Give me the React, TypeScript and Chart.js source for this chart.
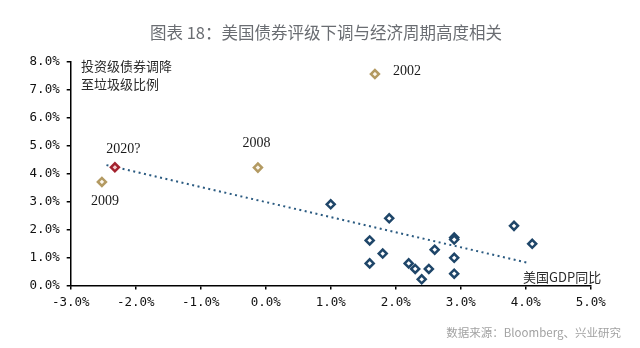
import React, { useEffect, useRef } from "react";
import { Chart, registerables } from "chart.js";

Chart.register(...registerables);

// ---- data ----
const blueGdp = [1.0, 1.9, 1.6, 1.6, 1.8, 2.2, 2.3, 2.4, 2.51, 2.6, 2.9, 2.9, 2.9, 2.9, 3.82, 4.1];
const blueRatio = [2.9, 2.4, 1.61, 0.79, 1.14, 0.79, 0.59, 0.22, 0.59, 1.28, 1.71, 1.64, 0.99, 0.42, 2.13, 1.49];
const crisisYears = ["2002", "2008", "2009"];
const crisisGdp = [1.68, -0.12, -2.52];
const crisisRatio = [7.55, 4.21, 3.7];
const forecastYears = ["2020?"];
const forecastGdp = [-2.32];
const forecastRatio = [4.22];
const trendGdp = [-2.45, 4.03];
const trendRatio = [4.3, 0.81];
const xTickValues = [-3, -2, -1, 0, 1, 2, 3, 4, 5];
const yTickValues = [0, 1, 2, 3, 4, 5, 6, 7, 8];

const titleText = "图表 18：美国债券评级下调与经济周期高度相关";
const sourceText = "数据来源：Bloomberg、兴业研究";
const yAxisNote = ["投资级债券调降", "至垃圾级比例"];
const xAxisNote = "美国GDP同比";

// label offsets (style, not data)
const crisisLabelOffsets = [
  { dx: 18, dy: -3, align: "left" as CanvasTextAlign },
  { dx: -1.5, dy: -24, align: "center" as CanvasTextAlign },
  { dx: 3, dy: 19, align: "center" as CanvasTextAlign },
];
const forecastLabelOffsets = [{ dx: 8.5, dy: -18, align: "center" as CanvasTextAlign }];

const zip = (xs: number[], ys: number[]) => xs.map((x, i) => ({ x, y: ys[i] }));

const textPlugin = {
  id: "texts",
  afterDraw(chart: any) {
    const ctx = chart.ctx as CanvasRenderingContext2D;
    const xs = chart.scales.x;
    const ys = chart.scales.y;
    ctx.save();
    // title
    ctx.fillStyle = "#6a6d72";
    ctx.font = '16.5px "Noto Sans CJK SC", "Noto Sans", sans-serif';
    ctx.textAlign = "center";
    ctx.textBaseline = "middle";
    ctx.fillText(titleText, 326, 33);
    // source
    ctx.fillStyle = "#a2a2a2";
    ctx.font = '11.5px "Noto Sans CJK SC", "Noto Sans", sans-serif';
    ctx.textAlign = "right";
    ctx.fillText(sourceText, 621, 333);
    // axis notes
    ctx.fillStyle = "#2a2a2a";
    ctx.font = '13px "Noto Sans CJK SC", sans-serif';
    ctx.textAlign = "left";
    ctx.fillText(yAxisNote[0], 81, 66);
    ctx.fillText(yAxisNote[1], 81, 84.5);
    ctx.fillText(xAxisNote, 523, 277);
    // year labels
    ctx.fillStyle = "#1a1a1a";
    ctx.font = '14px "Liberation Serif", "Times New Roman", serif';
    crisisYears.forEach((t, i) => {
      const o = crisisLabelOffsets[i];
      ctx.textAlign = o.align;
      ctx.fillText(t, xs.getPixelForValue(crisisGdp[i]) + o.dx, ys.getPixelForValue(crisisRatio[i]) + o.dy);
    });
    forecastYears.forEach((t, i) => {
      const o = forecastLabelOffsets[i];
      ctx.textAlign = o.align;
      ctx.fillText(t, xs.getPixelForValue(forecastGdp[i]) + o.dx, ys.getPixelForValue(forecastRatio[i]) + o.dy);
    });
    ctx.restore();
  },
};

export default function App() {
  const ref = useRef<HTMLCanvasElement | null>(null);
  useEffect(() => {
    if (!ref.current) return;
    const tickFont = { family: '"DejaVu Sans Mono", monospace', size: 12.5 };
    const chart = new Chart(ref.current, {
      type: "scatter",
      data: {
        datasets: [
          {
            type: "line",
            data: zip(trendGdp, trendRatio),
            borderColor: "#2a5a80",
            borderWidth: 2,
            borderDash: [2, 3.5],
            pointRadius: 0,
            fill: false,
            order: 5,
          } as any,
          {
            data: zip(blueGdp, blueRatio),
            pointStyle: "rectRot",
            pointRadius: 4,
            borderWidth: 2.5,
            borderColor: "#1f4669",
            backgroundColor: "#ffffff",
            order: 1,
          },
          {
            data: zip(crisisGdp, crisisRatio),
            pointStyle: "rectRot",
            pointRadius: 4,
            borderWidth: 2.5,
            borderColor: "#b39a62",
            backgroundColor: "#fbf6ec",
            order: 1,
          },
          {
            data: zip(forecastGdp, forecastRatio),
            pointStyle: "rectRot",
            pointRadius: 4,
            borderWidth: 2.5,
            borderColor: "#a3222e",
            backgroundColor: "#f3c9cc",
            order: 1,
          },
        ],
      },
      options: {
        responsive: false,
        animation: false,
        layout: { padding: { top: 61.5, right: 49.3, left: 0, bottom: 0 } },
        plugins: { legend: { display: false }, tooltip: { enabled: false }, title: { display: false } },
        scales: {
          x: {
            type: "linear",
            min: -3,
            max: 5,
            afterFit: (s: any) => {
              s.height = 62.5;
            },
            afterBuildTicks: (s: any) => {
              s.ticks = xTickValues.map((v) => ({ value: v }));
            },
            ticks: {
              color: "#111",
              font: tickFont,
              padding: 6,
              maxRotation: 0,
              callback: (v: any) => `${Number(v).toFixed(1)}%`,
            },
            grid: { drawOnChartArea: false, tickLength: 4, color: "#000", tickColor: "#000", lineWidth: 1.5 },
            border: { color: "#000", width: 1.5 },
          },
          y: {
            type: "linear",
            min: 0,
            max: 8,
            afterFit: (s: any) => {
              s.width = 70.7;
            },
            afterBuildTicks: (s: any) => {
              s.ticks = yTickValues.map((v) => ({ value: v }));
            },
            ticks: {
              color: "#111",
              font: tickFont,
              padding: 7,
              callback: (v: any) => `${Number(v).toFixed(1)}%`,
            },
            grid: { drawOnChartArea: false, tickLength: 4, color: "#000", tickColor: "#000", lineWidth: 1.5 },
            border: { color: "#000", width: 1.5 },
          },
        },
      },
      plugins: [textPlugin],
    });
    return () => chart.destroy();
  }, []);
  return (
    <div style={{ position: "absolute", left: 0, top: 0, width: 640, height: 348, background: "#fff" }}>
      <canvas ref={ref} width={640} height={348} style={{ width: 640, height: 348, display: "block" }} />
    </div>
  );
}
